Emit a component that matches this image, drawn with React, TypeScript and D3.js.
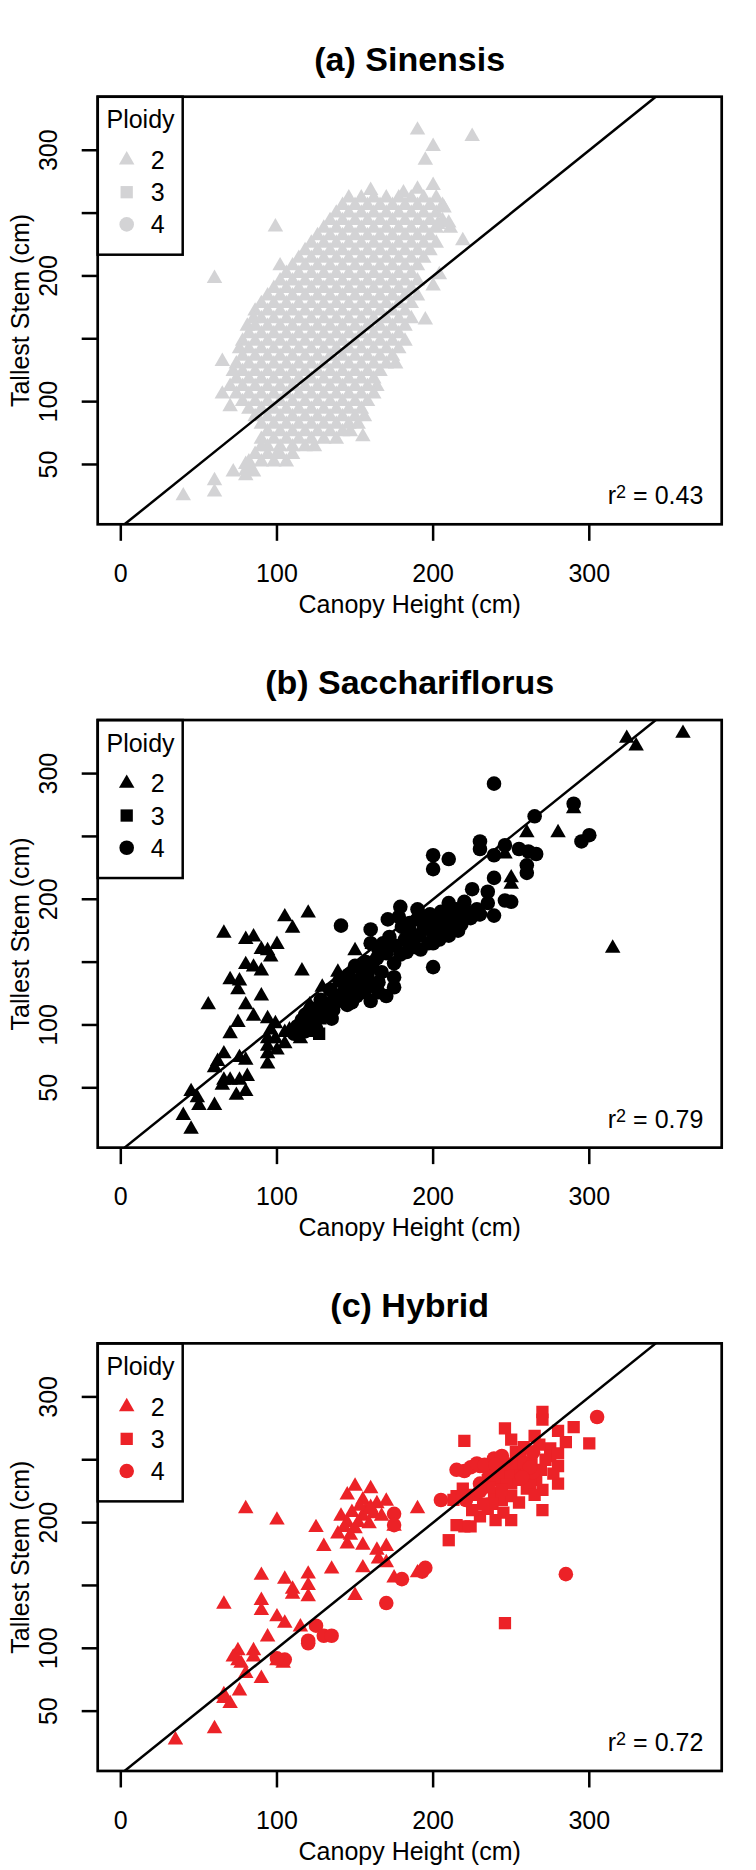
import React from "react";
import * as d3 from "d3";

// ---------- data ----------
const panelTitles = ["(a) Sinensis", "(b) Sacchariflorus", "(c) Hybrid"];
const panelColors = ["#D3D3D5", "#000000", "#EC2227"];
const r2Values = ["0.43", "0.79", "0.72"];
const ploidyLevels = ["2", "3", "4"];
const xTicks = [0, 100, 200, 300];
const yTicks = [50, 100, 150, 200, 250, 300];
const yTickLabels = [50, 100, 200, 300];

const sinensisDiploid: [number, number][] = [
  [146,262],[154,262],[162,262],[170,262],[178,262],[186,262],[194,262],[202,262],
  [142,256],[150,256],[158,256],[166,256],[174,256],[182,256],[190,256],[198,256],[206,256],
  [138,250],[146,250],[154,250],[162,250],[170,250],[178,250],[186,250],[194,250],[202,250],
  [134,244],[142,244],[150,244],[158,244],[166,244],[174,244],[182,244],[190,244],[198,244],[206,244],
  [130,238],[138,238],[146,238],[154,238],[162,238],[170,238],[178,238],[186,238],[194,238],[202,238],
  [126,232],[134,232],[142,232],[150,232],[158,232],[166,232],[174,232],[182,232],[190,232],[198,232],
  [122,226],[130,226],[138,226],[146,226],[154,226],[162,226],[170,226],[178,226],[186,226],[194,226],[202,226],
  [118,220],[126,220],[134,220],[142,220],[150,220],[158,220],[166,220],[174,220],[182,220],[190,220],[198,220],
  [114,214],[122,214],[130,214],[138,214],[146,214],[154,214],[162,214],[170,214],[178,214],[186,214],[194,214],
  [102,208],[110,208],[118,208],[126,208],[134,208],[142,208],[150,208],[158,208],[166,208],[174,208],[182,208],[190,208],
  [106,202],[114,202],[122,202],[130,202],[138,202],[146,202],[154,202],[162,202],[170,202],[178,202],[186,202],
  [102,196],[110,196],[118,196],[126,196],[134,196],[142,196],[150,196],[158,196],[166,196],[174,196],[182,196],[190,196],
  [98,190],[106,190],[114,190],[122,190],[130,190],[138,190],[146,190],[154,190],[162,190],[170,190],[178,190],[186,190],
  [94,184],[102,184],[110,184],[118,184],[126,184],[134,184],[142,184],[150,184],[158,184],[166,184],[174,184],[182,184],[190,184],
  [90,178],[98,178],[106,178],[114,178],[122,178],[130,178],[138,178],[146,178],[154,178],[162,178],[170,178],[178,178],[186,178],
  [86,172],[94,172],[102,172],[110,172],[118,172],[126,172],[134,172],[142,172],[150,172],[158,172],[166,172],[174,172],[182,172],
  [85,166],[90,166],[98,166],[106,166],[114,166],[122,166],[130,166],[138,166],[146,166],[154,166],[162,166],[170,166],[178,166],[186,166],
  [81,160],[86,160],[94,160],[102,160],[110,160],[118,160],[126,160],[134,160],[142,160],[150,160],[158,160],[166,160],[174,160],[182,160],
  [82,154],[90,154],[98,154],[106,154],[114,154],[122,154],[130,154],[138,154],[146,154],[154,154],[162,154],[170,154],[178,154],
  [78,148],[86,148],[94,148],[102,148],[110,148],[118,148],[126,148],[134,148],[142,148],[150,148],[158,148],[166,148],[174,148],[182,148],
  [76,142],[82,142],[90,142],[98,142],[106,142],[114,142],[122,142],[130,142],[138,142],[146,142],[154,142],[162,142],[170,142],[178,142],
  [78,136],[86,136],[94,136],[102,136],[110,136],[118,136],[126,136],[134,136],[142,136],[150,136],[158,136],[166,136],[174,136],
  [74,130],[82,130],[90,130],[98,130],[106,130],[114,130],[122,130],[130,130],[138,130],[146,130],[154,130],[162,130],[170,130],[176,130],
  [72,124],[78,124],[86,124],[94,124],[102,124],[110,124],[118,124],[126,124],[134,124],[142,124],[150,124],[158,124],[166,124],
  [74,118],[82,118],[90,118],[98,118],[106,118],[114,118],[122,118],[130,118],[138,118],[146,118],[154,118],[162,118],
  [70,112],[78,112],[86,112],[94,112],[102,112],[110,112],[118,112],[126,112],[134,112],[142,112],[150,112],[158,112],[164,112],
  [74,106],[82,106],[90,106],[98,106],[106,106],[114,106],[122,106],[130,106],[138,106],[146,106],[154,106],[162,106],
  [78,100],[86,100],[94,100],[102,100],[110,100],[118,100],[126,100],[134,100],[142,100],[150,100],[158,100],
  [82,94],[90,94],[98,94],[106,94],[114,94],[122,94],[130,94],[138,94],[146,94],[154,94],
  [86,88],[94,88],[102,88],[110,88],[118,88],[126,88],[134,88],[142,88],[150,88],[156,88],
  [90,82],[98,82],[106,82],[114,82],[122,82],[130,82],[138,82],[146,82],[152,82],
  [94,76],[102,76],[110,76],[118,76],[126,76],[134,76],[142,76],[147,76],
  [90,70],[98,70],[106,70],[114,70],[122,70],[130,70],[138,70],
  [94,64],[102,64],[110,64],[118,64],[124,64],
  [86,58],[94,58],[102,58],[110,58],
  [82,52],[90,52],[98,52],[106,52],
  [190,316],[225,311],[200,303],[195,292],[200,272],[190,269],[160,268],[181,266],[99,239],[211,238],[219,228],
  [204,201],[200,192],[60,198],[195,165],[65,132],[65,106],[70,96],[155,72],[80,50],[72,44],[80,45],[85,44],
  [80,41],[60,37],[60,28],[40,25],[100,58],[90,64],[210,242],[207,254],[203,241],
];
const sinensisTriploid: [number, number][] = [];
const sinensisTetraploid: [number, number][] = [];

const sacchDiploid: [number, number][] = [
  [324,328],[330,322],[360,332],[315,161],[260,253],[280,253],[290,272],[250,217],[250,212],[226,186],[246,236],
  [66,173],[105,186],[120,189],[110,177],[80,168],[85,170],[100,164],[90,160],[94,159],[96,154],[80,148],[85,146],
  [90,143],[116,143],[150,159],[70,136],[76,135],[75,128],[56,116],[90,123],[80,116],[85,107],[75,102],[70,93],
  [94,105],[99,101],[96,96],[94,89],[94,83],[94,77],[94,69],[99,89],[100,80],[105,85],[105,94],[108,96],[114,93],
  [66,77],[62,71],[60,66],[76,74],[80,72],[66,56],[70,56],[76,56],[81,59],[65,52],[74,44],[80,47],[45,47],[49,42],
  [50,36],[60,36],[40,28],[45,17],[121,96],[125,94],[129,130],[121,116],[139,142],[142,119],[161,164],[115,89],
  [130,110],[135,115],[137,125],[145,135],[120,100],[127,104],
];
const sacchTriploid: [number, number][] = [
  [127,93],[157,135],[150,132],[142,124],
];
const sacchTetraploid: [number, number][] = [
  [239,292],[290,276],[265,266],[300,251],[295,246],[230,246],[230,240],[246,243],[239,235],[255,240],[261,238],
  [266,236],[260,227],[260,221],[200,235],[200,224],[210,232],[239,217],[225,208],[235,206],[235,197],[246,199],
  [250,198],[239,187],[220,198],[210,197],[179,194],[141,179],[160,176],[200,146],
  [190,184],[195,181],[201,178],[207,184],[213,181],[219,186],[216,175],[210,171],[204,168],[197,165],[191,171],
  [185,175],[182,168],[188,162],[179,156],[175,149],[170,157],[165,160],[164,153],[161,146],[167,142],[158,140],
  [153,135],[150,129],[156,126],[151,123],[165,126],[175,138],[175,130],[165,134],[145,128],[139,119],[145,116],
  [136,112],[130,107],[135,105],[125,104],[121,101],[116,104],[113,99],[125,97],
  [205,190],[212,189],[222,190],[228,192],[198,188],[185,181],[180,178],[172,170],[168,165],[176,163],[183,158],
  [192,160],[200,165],[206,173],[218,180],[224,185],[230,188],[157,150],[150,147],[146,140],[140,135],[134,128],
  [128,120],[122,113],[118,108],[160,165],[171,184],[178,186],[190,192],[194,177],[187,168],[204,181],[215,192],
  [155,140],[162,131],[142,125],[148,118],[132,117],[127,111],[111,93],[118,95],[160,119],[170,123],[182,178],
  [196,186],[210,180],[200,172],
];

const hybridDiploid: [number, number][] = [
  [35,27],[60,36],[66,60],[70,56],[66,63],[76,66],[80,80],[90,76],[75,98],[75,90],[85,98],[85,93],[94,109],
  [90,138],[90,130],[90,158],[100,125],[105,120],[105,155],[110,147],[110,143],[120,159],[120,150],[120,141],
  [115,117],[66,135],[80,211],[100,202],[125,196],[130,181],[135,163],[150,142],[139,191],[141,205],[145,222],
  [150,229],[160,227],[155,218],[145,200],[150,195],[155,205],[159,199],[164,215],[170,217],[167,205],[175,197],
  [145,183],[155,182],[164,178],[170,181],[165,171],[170,168],[155,164],[175,156],[190,211],[190,160],
  [148,208],[152,200],[157,210],[143,196],[147,190],[162,207],[153,213],[72,93],[100,90],[104,88],[77,88],[160,212],
];
const hybridTriploid: [number, number][] = [
  [270,288],[270,282],[246,275],[290,276],[280,273],[285,264],[300,263],[220,265],[250,266],[265,269],[275,259],
  [275,253],[280,245],[280,231],[270,226],[270,210],[250,202],[240,202],[230,205],[224,197],[220,197],[215,198],
  [210,186],[246,120],
  [235,211],[239,224],[244,218],[250,221],[255,216],[250,231],[255,234],[260,227],[255,243],[260,237],[266,234],
  [263,248],[269,242],[272,250],[256,253],[253,256],[215,221],[219,227],[213,218],[235,234],[241,234],[247,234],
  [244,226],[238,215],[232,215],[248,240],[252,247],[258,248],[262,230],[265,222],[242,240],[236,228],[226,222],
  [225,210],[245,208],[258,260],[268,262],[280,255],[277,239],
];
const hybridTetraploid: [number, number][] = [
  [305,284],[285,159],[170,136],[180,155],[195,164],[193,161],[205,218],[175,207],[175,198],[125,118],[130,110],
  [135,110],[120,106],[120,104],[105,91],[100,92],[220,241],[224,244],[230,245],[235,243],[239,251],[244,253],
  [246,247],[230,231],[230,225],[264,256],[264,240],[221,218],[219,221],[228,247],[233,246],[240,246],[215,242],
  [262,244],[257,236],
];

const panelData = [
  [sinensisDiploid, sinensisTriploid, sinensisTetraploid],
  [sacchDiploid, sacchTriploid, sacchTetraploid],
  [hybridDiploid, hybridTriploid, hybridTetraploid],
];

// ---------- layout ----------
const W = 756;
const H = 1870;
const PANEL_H = H / 3;
const BOX = { left: 97.7, right: 721.7, top: 96.7, bottom: 524.3 };
const FONT = "'Liberation Sans', Arial, Helvetica, sans-serif";
const FS = 25;

export default function App() {
  const x = d3.scaleLinear().domain([-14.8, 384.8]).range([BOX.left, BOX.right]);
  const y = d3.scaleLinear().domain([2.4, 342.6]).range([BOX.bottom, BOX.top]);
  const symbols = [
    d3.symbol().type(d3.symbolTriangle).size(104)() as string,
    d3.symbol().type(d3.symbolSquare).size(151)() as string,
    d3.symbol().type(d3.symbolCircle).size(167)() as string,
  ];
  const lineGen = d3.line<[number, number]>().x((d) => x(d[0])).y((d) => y(d[1]));
  const oneToOne: [number, number][] = [[2.4, 2.4], [342.6, 342.6]];
  const cx = (BOX.left + BOX.right) / 2;
  const cy = (BOX.top + BOX.bottom) / 2;

  return (
    <svg
      width={W}
      height={H}
      style={{ position: "absolute", left: 0, top: 0, background: "#fff" }}
      fontFamily={FONT}
    >
      <rect width={W} height={H} fill="#fff" />
      <defs>
        <clipPath id="plotClip">
          <rect x={BOX.left} y={BOX.top} width={BOX.right - BOX.left} height={BOX.bottom - BOX.top} />
        </clipPath>
      </defs>
      {panelTitles.map((title, pi) => {
        const color = panelColors[pi];
        return (
          <g key={pi} transform={`translate(0,${pi * PANEL_H})`}>
            <text x={cx} y={70.7} textAnchor="middle" fontWeight="bold" fontSize={34}>
              {title}
            </text>
            <g clipPath="url(#plotClip)">
              {panelData[pi].map((pts, si) =>
                pts.map((d, k) => (
                  <path
                    key={`${si}-${k}`}
                    d={symbols[si]}
                    transform={`translate(${x(d[0])},${y(d[1])})`}
                    fill={color}
                  />
                ))
              )}
              <path d={lineGen(oneToOne) as string} stroke="#000" strokeWidth={2.5} fill="none" />
            </g>
            <rect
              x={BOX.left}
              y={BOX.top}
              width={BOX.right - BOX.left}
              height={BOX.bottom - BOX.top}
              fill="none"
              stroke="#000"
              strokeWidth={2.7}
            />
            {/* x axis */}
            {xTicks.map((t) => (
              <g key={t}>
                <line x1={x(t)} x2={x(t)} y1={BOX.bottom} y2={BOX.bottom + 16.5} stroke="#000" strokeWidth={2.5} />
                <text x={x(t)} y={582} textAnchor="middle" fontSize={FS}>
                  {t}
                </text>
              </g>
            ))}
            <text x={cx} y={613} textAnchor="middle" fontSize={FS}>
              Canopy Height (cm)
            </text>
            {/* y axis */}
            {yTicks.map((t) => (
              <line key={t} x1={BOX.left - 16} x2={BOX.left} y1={y(t)} y2={y(t)} stroke="#000" strokeWidth={2.5} />
            ))}
            {yTickLabels.map((t) => (
              <text key={t} transform={`translate(57,${y(t)}) rotate(-90)`} textAnchor="middle" fontSize={FS}>
                {t}
              </text>
            ))}
            <text transform={`translate(29,${cy}) rotate(-90)`} textAnchor="middle" fontSize={FS}>
              Tallest Stem (cm)
            </text>
            {/* legend */}
            <rect x={BOX.left} y={BOX.top} width={85} height={158} fill="none" stroke="#000" strokeWidth={2.5} />
            <text x={140.5} y={128.3} textAnchor="middle" fontSize={FS}>
              Ploidy
            </text>
            {ploidyLevels.map((p, i) => (
              <g key={p}>
                <path d={symbols[i]} transform={`translate(126.7,${160 + i * 32.2})`} fill={color} />
                <text x={150.7} y={160 + i * 32.2 + 9} fontSize={FS}>
                  {p}
                </text>
              </g>
            ))}
            {/* r squared */}
            <text x={703.3} y={504.3} textAnchor="end" fontSize={FS}>
              r<tspan dy={-6} fontSize={18}>2</tspan>
              <tspan dy={6}> = {r2Values[pi]}</tspan>
            </text>
          </g>
        );
      })}
    </svg>
  );
}
